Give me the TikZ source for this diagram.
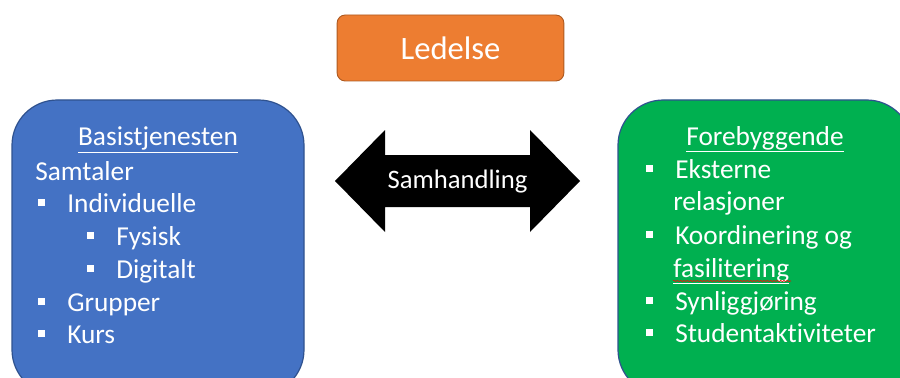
\documentclass[tikz,border=0pt]{standalone}
\usepackage{fontspec}
\setmainfont{Carlito}[Ligatures=NoCommon]
\usetikzlibrary{decorations.pathmorphing}
\definecolor{ledorange}{HTML}{ED7D31}
\definecolor{ledrim}{HTML}{AE5A21}
\definecolor{basisblue}{HTML}{4472C4}
\definecolor{rimblue}{HTML}{2F528F}
\definecolor{forgreen}{HTML}{00B050}
\newcommand{\blt}{\makebox[21.75pt][l]{\rule[4.3pt]{5.25pt}{5.25pt}}}

\begin{document}
\begin{tikzpicture}[x=0.75pt,y=-0.75pt,
    txt/.style={text=white,inner sep=0pt,anchor=base west,font=\fontsize{20.5}{24}\selectfont},
    head/.style={txt,anchor=base},
    bigbox/.style={draw=rimblue,line width=0.9pt,rounded corners=34pt,minimum height=221.25pt}]
        \path[use as bounding box] (0,0) rectangle (900,378);
        \clip (0,0) rectangle (900,378);
        % top box
        \node[draw=ledrim,fill=ledorange,line width=0.7pt,rounded corners=6pt,
              minimum width=170pt,minimum height=49.5pt,text=white,
              font=\fontsize{24.5}{28}\selectfont] (ledelse) at (450.5,48) {Ledelse};
        % side boxes
        \node[bigbox,fill=basisblue,minimum width=219pt] (basis) at (158,247.5) {};
        \node[bigbox,fill=forgreen,minimum width=220.5pt] (forebygg) at (765,247.5) {};
        % double arrow
        \fill[black] (335,181) -- (385,130) -- (385,155) -- (530,155) -- (530,130)
              -- (580,181) -- (530,232) -- (530,207) -- (385,207) -- (385,232) -- cycle;
        \node[text=white,inner sep=0pt,font=\fontsize{20}{24}\selectfont] (samhandling) at (457.5,182) {Samhandling};
        % left list
        \node[head] (basishead) at (158,146) {\underline{Basistjenesten}};
        \node[txt] (samtaler) at (35,180) {Samtaler};
        \foreach \x/\y/\t/\n in {38/212/Individuelle/indiv, 87/245/Fysisk/fysisk,
                                 87/278/Digitalt/digitalt, 38/311/Grupper/grupper, 38/343/Kurs/kurs}
            \node[txt] (\n) at (\x,\y) {\blt\t};
        % right list
        \node[head] (forhead) at (765,145) {\underline{Forebyggende}};
        \foreach \y/\t/\n in {178/Eksterne/eksterne, 244/Koordinering og/koord,
                              310/Synliggjøring/synlig, 342/Studentaktiviteter/student}
            \node[txt] (\n) at (646,\y) {\blt\t};
        \node[txt] (relasjoner) at (673,210) {relasjoner};
        \node[txt] (fasilitering) at (673,277) {\underline{fasilitering}};
        \draw[red,line width=0.4pt,decorate,decoration={snake,amplitude=0.6pt,segment length=2.5pt}]
              (fasilitering.base west) ++(0,4) -- ++(118,0);
\end{tikzpicture}
\end{document}
